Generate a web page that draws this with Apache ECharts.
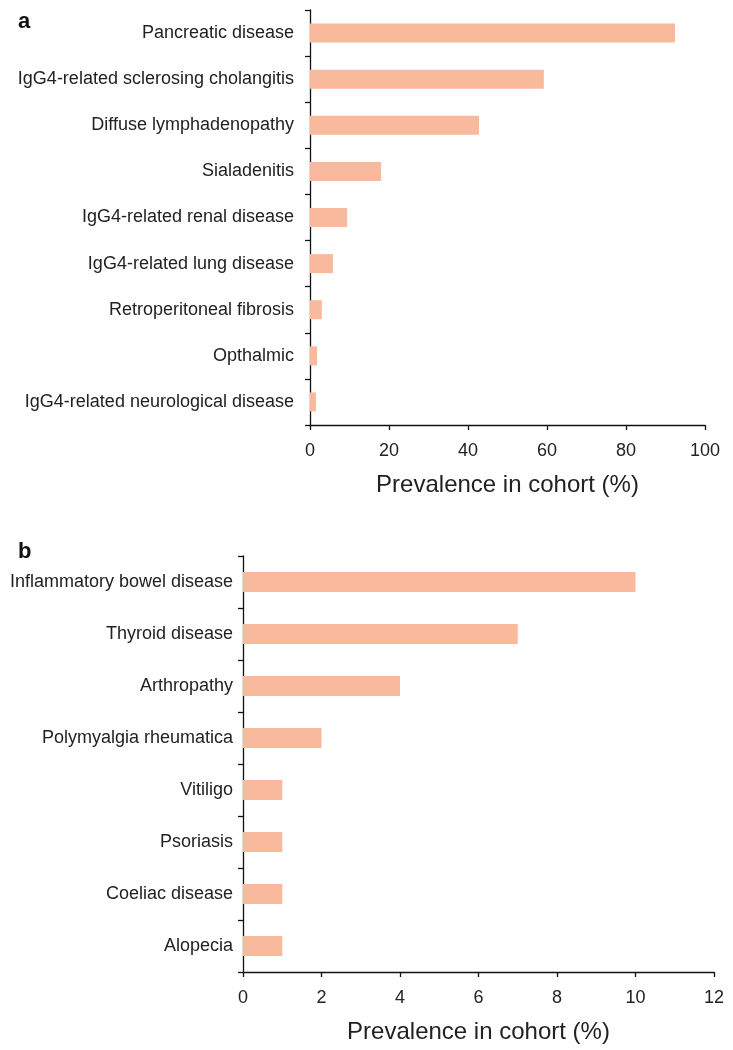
<!DOCTYPE html>
<html>
  <head>
    <meta charset="utf-8" />
    <title>Prevalence in cohort</title>
    <script src="https://cdn.jsdelivr.net/npm/echarts@6/dist/echarts.min.js"></script>
    <style>
      html, body { margin: 0; padding: 0; background: #fff; }
      #main { width: 733px; height: 1050px; }
    </style>
  </head>
  <body>
    <div id="main"></div>
    <script type="text/javascript">
// panel a - organ involvement
let categoriesA = ['Pancreatic disease', 'IgG4-related sclerosing cholangitis', 'Diffuse lymphadenopathy', 'Sialadenitis',
  'IgG4-related renal disease', 'IgG4-related lung disease', 'Retroperitoneal fibrosis', 'Opthalmic', 'IgG4-related neurological disease'];
let valuesA = [92.4, 59.2, 42.8, 18, 9.4, 5.8, 3, 1.8, 1.5];
let ticksA = { min: 0, max: 100, interval: 20 };

// panel b - other autoimmune disease
let categoriesB = ['Inflammatory bowel disease', 'Thyroid disease', 'Arthropathy', 'Polymyalgia rheumatica',
  'Vitiligo', 'Psoriasis', 'Coeliac disease', 'Alopecia'];
let valuesB = [10, 7, 4, 2, 1, 1, 1, 1];
let ticksB = { min: 0, max: 12, interval: 2 };

let barColor = '#f8b99d';
let font = 'Liberation Sans, Arial, Helvetica, sans-serif';

var myChart = echarts.init(document.getElementById('main'));

function xAxisFor(idx, ticks, gap) {
  return {
    type: 'value',
    gridIndex: idx,
    min: ticks.min,
    max: ticks.max,
    interval: ticks.interval,
    name: 'Prevalence in cohort (%)',
    nameLocation: 'middle',
    nameGap: gap,
    nameTextStyle: { fontSize: 24, color: '#222', fontFamily: font },
    splitLine: { show: false },
    axisLine: { show: true, lineStyle: { color: '#111', width: 1.3 } },
    axisTick: { show: true, length: 5, lineStyle: { color: '#111', width: 1.3 } },
    axisLabel: { fontSize: 18, color: '#222', margin: 17, fontFamily: font }
  };
}

function yAxisFor(idx, cats, margin) {
  return {
    type: 'category',
    gridIndex: idx,
    data: cats,
    inverse: true,
    axisLine: { show: true, lineStyle: { color: '#111', width: 1.3 } },
    axisTick: { show: true, length: 5, alignWithLabel: false, lineStyle: { color: '#111', width: 1.3 } },
    axisLabel: { fontSize: 18, color: '#222', margin: margin, fontFamily: font }
  };
}

option = {
  animation: false,
  backgroundColor: '#fff',
  title: [
    { text: 'a', left: 13, top: 6, textStyle: { fontSize: 22, fontWeight: 'bold', color: '#111', fontFamily: font } },
    { text: 'b', left: 13, top: 536, textStyle: { fontSize: 22, fontWeight: 'bold', color: '#111', fontFamily: font } }
  ],
  grid: [
    { left: 310, top: 10, width: 395, height: 415 },
    { left: 243, top: 556, width: 471, height: 416 }
  ],
  xAxis: [xAxisFor(0, ticksA, 48), xAxisFor(1, ticksB, 48)],
  yAxis: [yAxisFor(0, categoriesA, 16), yAxisFor(1, categoriesB, 10)],
  series: [
    {
      type: 'bar',
      xAxisIndex: 0,
      yAxisIndex: 0,
      barWidth: 19,
      itemStyle: { color: barColor },
      data: valuesA
    },
    {
      type: 'bar',
      xAxisIndex: 1,
      yAxisIndex: 1,
      barWidth: 20,
      itemStyle: { color: barColor },
      data: valuesB
    }
  ]
};

myChart.setOption(option);
    </script>
  </body>
</html>
